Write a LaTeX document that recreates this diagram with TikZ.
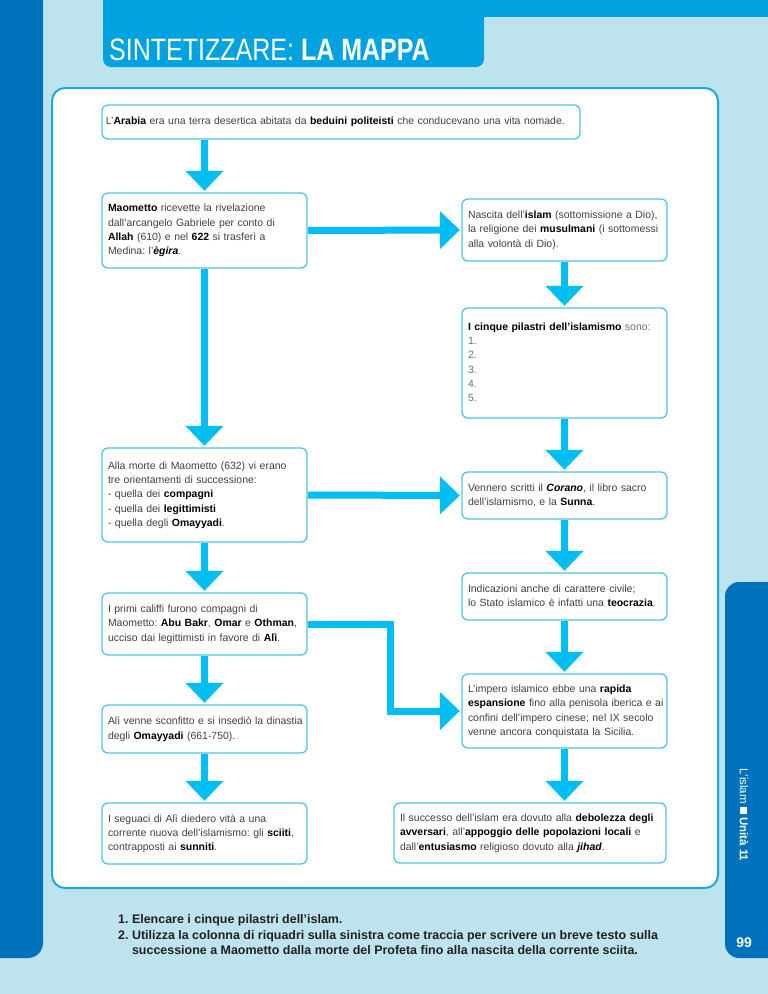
\documentclass[tikz,border=0pt]{standalone}
\usepackage{fontspec}
\setmainfont{Liberation Sans}
\usepackage{graphicx}
\usetikzlibrary{arrows.meta}
\definecolor{bgblue}{RGB}{189,228,238}
\definecolor{darkblue}{RGB}{0,114,187}
\definecolor{headblue}{RGB}{0,162,223}
\definecolor{panelline}{RGB}{28,168,224}
\definecolor{boxline}{RGB}{80,195,233}
\definecolor{arrowblue}{RGB}{0,190,242}
\definecolor{txt}{RGB}{64,64,64}
\definecolor{numgray}{RGB}{110,110,110}
\definecolor{qtext}{RGB}{35,31,32}
\newcommand\bk[1]{{\bfseries\color{black}#1}}
\newcommand\bki[1]{{\bfseries\itshape\color{black}#1}}
\newcommand\rows[1]{\begin{tabular}{@{}l@{}}#1\end{tabular}}
\frenchspacing
\begin{document}
\begin{tikzpicture}[x=1bp,y=-1bp,
  box/.style={draw=boxline, line width=1.3bp, fill=white, rounded corners=6bp,
    inner xsep=6bp, inner ysep=0bp, align=left, text width=193bp,
    font=\fontsize{10.5}{14.4}\selectfont, text=txt},
  arr/.style={draw=arrowblue, line width=7bp, -{Triangle[width=37bp,length=20bp]},
    shorten >=1.5bp, shorten <=0.5bp},
  qline/.style={anchor=base west, inner sep=0pt, text=qtext,
    font=\bfseries\fontsize{12.5}{15.5}\selectfont}]
\useasboundingbox (0,0) rectangle (768,994);
\clip (0,0) rectangle (768,994);
\fill[bgblue] (0,0) rectangle (768,994);
\fill[darkblue, rounded corners=15bp] (-30,-30) rectangle (43,958);
\fill[headblue] (103,0) rectangle (768,17);
\fill[headblue, rounded corners=8bp] (103,-30) rectangle (484,67);
\fill[darkblue, rounded corners=14bp] (725,582) rectangle (800,958);
\draw[panelline, line width=2bp, fill=white, rounded corners=13bp] (52,88) rectangle (718,888);

\node[anchor=base west, inner sep=0pt, text=white, font=\fontsize{31}{31}\selectfont] (title) at (109,60)
  {\scalebox{0.81}[1]{SINTETIZZARE: \textbf{LA MAPPA}}};

% boxes
\node[box, text width=470bp, inner xsep=4bp, minimum height=34bp] (arabia) at (341,122)
  {\rows{L’\bk{Arabia} era una terra desertica abitata da \bk{beduini politeisti} che conducevano una vita nomade.}};
\node[box, minimum height=75bp] (maom) at (204.5,230.5)
  {\rows{\bk{Maometto} ricevette la rivelazione\\dall’arcangelo Gabriele per conto di\\\bk{Allah} (610) e nel \bk{622} si trasferì a\\Medina: l’\bki{ègira}.}};
\node[box, minimum height=62bp] (nascita) at (564.5,230)
  {\rows{Nascita dell’\bk{islam} (sottomissione a Dio),\\la religione dei \bk{musulmani} (i sottomessi\\alla volontà di Dio).}};
\node[box, minimum height=110bp] (pilastri) at (564.5,363)
  {\rows{\bk{I cinque pilastri dell’islamismo} {\color{numgray}sono:}\\{\color{numgray}1.}\\{\color{numgray}2.}\\{\color{numgray}3.}\\{\color{numgray}4.}\\{\color{numgray}5.}}};
\node[box, minimum height=94bp] (morte) at (204.5,495)
  {\rows{Alla morte di Maometto (632) vi erano\\tre orientamenti di successione:\\- quella dei \bk{compagni}\\- quella dei \bk{legittimisti}\\- quella degli \bk{Omayyadi}.}};
\node[box, minimum height=47bp] (corano) at (564.5,495.5)
  {\rows{Vennero scritti il \bki{Corano}, il libro sacro\\dell’islamismo, e la \bk{Sunna}.}};
\node[box, minimum height=47bp] (teocr) at (564.5,596.5)
  {\rows{Indicazioni anche di carattere civile;\\lo Stato islamico è infatti una \bk{teocrazia}.}};
\node[box, minimum height=62bp] (califfi) at (204.5,624)
  {\rows{I primi califfi furono compagni di\\Maometto: \bk{Abu Bakr}, \bk{Omar} e \bk{Othman},\\ucciso dai legittimisti in favore di \bk{Alì}.}};
\node[box, minimum height=74bp] (impero) at (564.5,711)
  {\rows{L’impero islamico ebbe una \bk{rapida}\\\bk{espansione} fino alla penisola iberica e ai\\confini dell’impero cinese; nel IX secolo\\venne ancora conquistata la Sicilia.}};
\node[box, minimum height=48bp] (ali) at (204.5,729)
  {\rows{Alì venne sconfitto e si insediò la dinastia\\degli \bk{Omayyadi} (661-750).}};
\node[box, minimum height=61bp] (seguaci) at (204.5,833.5)
  {\rows{I seguaci di Alì diedero vità a una\\corrente nuova dell’islamismo: gli \bk{sciiti},\\contrapposti ai \bk{sunniti}.}};
\node[box, text width=260bp, minimum height=60bp] (successo) at (530,833)
  {\rows{Il successo dell’islam era dovuto alla \bk{debolezza degli}\\\bk{avversari}, all’\bk{appoggio delle popolazioni locali} e\\dall’\bk{entusiasmo} religioso dovuto alla \bki{jihad}.}};

% connectors
\draw[arr] (maom.north |- arabia.south) -- (maom.north);
\draw[arr] (maom.east) -- (nascita.west);
\draw[arr] (nascita.south) -- (pilastri.north);
\draw[arr] (maom.south) -- (morte.north);
\draw[arr] (morte.east) -- (corano.west);
\draw[arr] (pilastri.south) -- (corano.north);
\draw[arr] (corano.south) -- (teocr.north);
\draw[arr] (morte.south) -- (califfi.north);
\draw[arr] (califfi.east) -- ++(83,0) |- (impero.west);
\draw[arr] (teocr.south) -- (impero.north);
\draw[arr] (califfi.south) -- (ali.north);
\draw[arr] (ali.south) -- (seguaci.north);
\draw[arr] (impero.south) -- (impero.south |- successo.north);

% questions
\node[qline] (q1) at (118,923) {1. Elencare i cinque pilastri dell’islam.};
\node[qline] (q2) at (118,939) {2. Utilizza la colonna di riquadri sulla sinistra come traccia per scrivere un breve testo sulla};
\node[qline] (q3) at (118,954.5) {\phantom{2. }successione a Maometto dalla morte del Profeta fino alla nascita della corrente sciita.};

% side tab
\node[rotate=-90, inner sep=0pt, text=white, font=\fontsize{11.5}{13}\selectfont] (unit) at (744,815)
  {L’islam\ \rule{7bp}{7bp}\ \textbf{Unità 11}};
\node[inner sep=0pt, text=white, font=\bfseries\fontsize{14}{15}\selectfont] (page) at (744,943) {99};
\end{tikzpicture}
\end{document}
